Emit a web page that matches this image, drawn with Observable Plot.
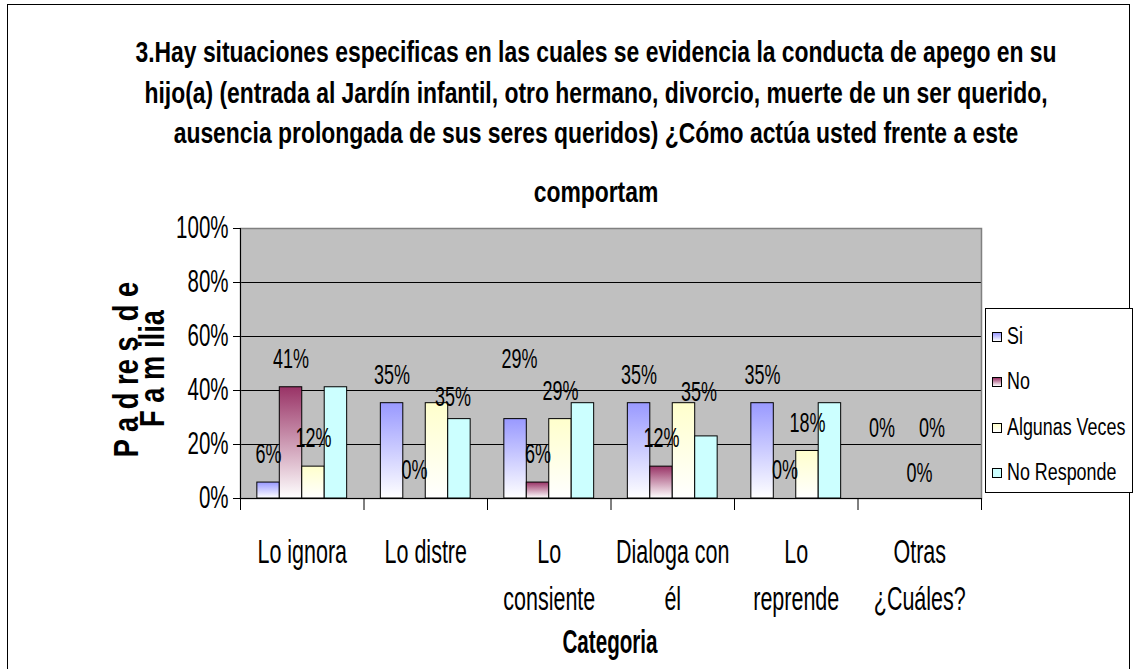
<!DOCTYPE html>
<html><head><meta charset="utf-8">
<script src="https://cdn.jsdelivr.net/npm/d3@7"></script>
<script src="https://cdn.jsdelivr.net/npm/@observablehq/plot@0.6"></script>
<style>
body{margin:0;background:#fff;}
#chart{position:relative;width:1134px;height:669px;overflow:hidden;font-family:"Liberation Sans",Arial,sans-serif;background:#fff;color:#000;}
#chart svg{position:absolute;left:0;top:0;}
.t{position:absolute;white-space:pre;color:#000;}
</style></head><body><div id="chart"></div>
<script>
// ---- data ----
const categories = ["Lo ignora", "Lo distre", "Lo consiente", "Dialoga con él", "Lo reprende", "Otras ¿Cuáles?"];
const categoryLines = ["Lo ignora", "Lo distre", "Lo\nconsiente", "Dialoga con\nél", "Lo\nreprende", "Otras\n¿Cuáles?"];
const series = ["Si", "No", "Algunas Veces", "No Responde"];
const valuesSi = [5.9, 35.3, 29.4, 35.3, 35.3, 0];
const valuesNo = [41.2, 0, 5.9, 11.8, 0, 0];
const valuesAlgunas = [11.8, 35.3, 29.4, 35.3, 17.6, 0];
const valuesNoResponde = [41.2, 29.4, 35.3, 23, 35.3, 0];
const yTicks = [0, 20, 40, 60, 80, 100];
const labeledSeries = ["Si", "No", "Algunas Veces"];
const titleLines = [
  "3.Hay situaciones especificas en las cuales se evidencia la conducta de apego en su",
  "hijo(a) (entrada al Jardín infantil, otro hermano, divorcio, muerte de un ser querido,",
  "ausencia prolongada de sus seres queridos) ¿Cómo actúa usted frente a este",
  "comportam"
];
const yTitleLines = ["P a d re s  d e", "F a m ilia"];
const xTitle = "Categoria";

// ---- styles ----
const gradients = {
  "Si": ["#9999FF", "#FFFFFF"],
  "No": ["#993366", "#FFFFFF"],
  "Algunas Veces": ["#FFFFCC", "#FFFFFF"],
  "No Responde": ["#CCFFFF", "#CCFFFF"]
};
const gradId = s => "g" + series.indexOf(s);
// manual label nudges [dx, dy] (label centre relative to bar top)
const labelNudge = {
  "Lo distre|Algunas Veces": [16, -6],
  "Lo consiente|Si": [4, -60],
  "Dialoga con él|Algunas Veces": [15, -11],
  "Otras ¿Cuáles?|Si": [-4, -70],
  "Otras ¿Cuáles?|No": [11, -25],
  "Otras ¿Cuáles?|Algunas Veces": [1, -70]
};
const SY = 1.52; // vertical stretch of svg text
const FONT = '"Liberation Sans", Arial, sans-serif';

const valuesBySeries = [valuesSi, valuesNo, valuesAlgunas, valuesNoResponde];
const data = [];
series.forEach((s, k) => categories.forEach((c, i) => data.push({category: c, ci: i, series: s, si: k, value: valuesBySeries[k][i]})));
const slots = series.length + 1.5; // Excel gap width 150%
const x1 = d => d.ci + (0.75 + d.si) / slots;
const x2 = d => d.ci + (1.75 + d.si) / slots;
const xc = d => d.ci + (1.25 + d.si) / slots;

const barMarks = series.map(s => Plot.rectY(data.filter(d => d.series === s), {
  x1, x2, y1: 0, y2: "value", fill: `url(#${gradId(s)})`, stroke: "#000", strokeWidth: 1
}));

const labelMarks = data.filter(d => labeledSeries.includes(d.series)).map(d => {
  const [dx, dy] = labelNudge[d.category + "|" + d.series] || [0, -28];
  return Plot.text([d], {x: xc, y: "value", text: d => Math.round(d.value) + "%", dx, dy, fontSize: 18, lineAnchor: "middle"});
});

const svg = Plot.plot({
  width: 1134, height: 669,
  marginLeft: 240, marginRight: 153, marginTop: 228, marginBottom: 171,
  style: {fontFamily: FONT, background: "transparent", overflow: "visible", color: "#000"},
  x: {domain: [0, categories.length]},
  y: {domain: [0, 100]},
  marks: [
    Plot.frame({fill: "#C0C0C0"}),
    Plot.ruleY(yTicks.filter(t => t > 0 && t < 100), {stroke: "#000", strokeWidth: 1}),
    Plot.frame({stroke: "#808080", strokeWidth: 1.5}),
    ...barMarks,
    Plot.ruleY([0], {stroke: "#000"}),
    Plot.ruleX([0], {stroke: "#000"}),
    Plot.axisY({ticks: yTicks, tickFormat: d => d + "%", tickSize: 7, tickPadding: 5, fontSize: 20.5, label: null}),
    Plot.axisX({ticks: d3.range(categories.length + 1), tickSize: 12, tickFormat: () => "", label: null}),
    Plot.text(categoryLines, {x: (d, i) => i + 0.5, frameAnchor: "bottom", dy: 31.5, lineAnchor: "top", lineHeight: 1.44, fontSize: 21.5, text: d => d}),
    ...labelMarks
  ]
});

// gradients
const defs = d3.select(svg).insert("defs", ":first-child");
series.forEach(s => {
  const g = defs.append("linearGradient").attr("id", gradId(s)).attr("x1", 0).attr("y1", 0).attr("x2", 0).attr("y2", 1);
  g.append("stop").attr("offset", "0%").attr("stop-color", gradients[s][0]);
  g.append("stop").attr("offset", "100%").attr("stop-color", gradients[s][1]);
});
// stretch texts vertically (narrow, tall lettering of the original)
svg.querySelectorAll("text").forEach(t => {
  const tr = t.getAttribute("transform");
  if (tr) t.setAttribute("transform", tr + ` scale(1,${SY})`);
});

const chart = document.getElementById("chart");
const frame = document.createElement("div");
frame.style.cssText = "position:absolute;left:7px;top:4px;width:1123px;height:800px;border:1px solid #000;box-sizing:border-box;";
chart.appendChild(frame);
chart.appendChild(svg);

function addText(txt, o) {
  const el = document.createElement("div");
  el.className = "t";
  el.textContent = txt;
  const size = o.size;
  const w = o.width || 1100;
  el.style.fontSize = size + "px";
  el.style.lineHeight = size + "px";
  el.style.height = size + "px";
  el.style.fontWeight = o.bold ? "bold" : "normal";
  el.style.top = (o.cy - size / 2) + "px";
  if (o.align === "left") {
    el.style.left = o.left + "px";
    el.style.textAlign = "left";
    el.style.transformOrigin = "0 50%";
  } else {
    el.style.left = (o.cx - w / 2) + "px";
    el.style.width = w + "px";
    el.style.textAlign = "center";
    el.style.transformOrigin = "50% 50%";
  }
  el.style.transform = `rotate(${o.rot || 0}deg) scale(${o.sx || 1},${o.sy || 1})`;
  (o.parent || chart).appendChild(el);
  return el;
}

// title
const titleCy = [52, 93, 133, 192];
titleLines.forEach((l, i) => addText(l, {cx: 596, cy: titleCy[i], size: 22.9, bold: true, sy: 1.32}));
// y title
addText(yTitleLines[0], {cx: 125, cy: 369, size: 35, bold: true, rot: -90, sx: 0.78, width: 300});
addText(yTitleLines[1], {cx: 151, cy: 368, size: 35, bold: true, rot: -90, sx: 0.78, width: 300});
// x title
addText(xTitle, {cx: 610, cy: 642, size: 20.6, bold: true, sy: 1.62});

// legend
const legend = document.createElement("div");
legend.style.cssText = "position:absolute;left:985px;top:308px;width:148px;height:185px;border:1px solid #000;box-sizing:border-box;background:#fff;";
chart.appendChild(legend);
const rowCy = [28, 73, 119, 164];
series.forEach((s, i) => {
  const sw = document.createElement("div");
  sw.style.cssText = `position:absolute;left:6px;top:${rowCy[i] - 5}px;width:10px;height:10px;box-sizing:border-box;border:1px solid #000;background:linear-gradient(${gradients[s][0]}, ${gradients[s][1]});`;
  legend.appendChild(sw);
  addText(s, {left: 21, cy: rowCy[i], size: 17.9, sy: 1.3, align: "left", parent: legend});
});
</script></body></html>
